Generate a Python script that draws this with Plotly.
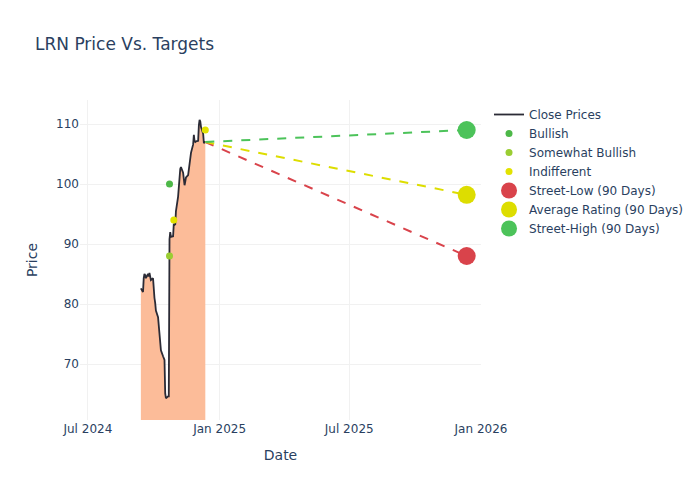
import pandas as pd
import plotly.graph_objects as go

# ---- data ----
close_dates = [d.strftime("%Y-%m-%d") for d in pd.bdate_range("2024-09-13", "2024-12-12")]
close_prices = [
    82.6, 82.0, 84.3, 85.0, 84.8, 84.3, 85.0, 84.6, 85.2, 84.4, 84.0, 84.3,
    82.0, 81.0, 80.2, 78.9, 77.8, 76.4, 75.0, 73.6, 72.3, 71.3, 71.0, 70.7,
    65.1, 64.3, 64.6, 64.6, 90.8, 92.0, 91.2, 91.3, 93.4, 93.2, 93.3,
    95.5, 97.9, 100.0, 101.8, 102.5, 102.8, 101.9, 100.8, 99.8, 100.4, 101.1,
    101.5, 102.4, 103.3, 104.3, 105.2, 106.6, 108.2, 107.1, 107.0, 107.1,
    107.2, 109.8, 110.7, 110.4, 109.5, 108.4, 106.8, 107.0, 107.0,
]

bullish_dates = ["2024-10-23"]
bullish_prices = [100.0]
somewhat_bullish_dates = ["2024-10-23"]
somewhat_bullish_prices = [88.0]
indifferent_dates = ["2024-10-29", "2024-12-12"]
indifferent_prices = [94.0, 109.0]

target_date = "2025-12-12"
street_low = 88.0
average_rating = 98.2
street_high = 109.0

title = "LRN Price Vs. Targets"

# ---- styles ----
c_line = "#2b2b36"
c_fill = "#FCBC99"
c_bull = "#4DB848"
c_sbull = "#9ACD32"
c_ind = "#E2E200"
c_red = "#D9434B"
c_yel = "#DDDD00"
c_grn = "#4CC35A"
c_grid = "#F1F1F1"

fig = go.Figure()

# area under the close price (not in legend)
fig.add_trace(go.Scatter(
    x=close_dates, y=close_prices, mode="lines", showlegend=False,
    line=dict(width=0, color=c_fill), fill="tozeroy", fillcolor=c_fill,
    hoverinfo="skip",
))
fig.add_trace(go.Scatter(
    x=close_dates, y=close_prices, mode="lines", name="Close Prices",
    line=dict(color=c_line, width=1.8),
))
fig.add_trace(go.Scatter(
    x=bullish_dates, y=bullish_prices, mode="markers", name="Bullish",
    marker=dict(color=c_bull, size=7),
))
fig.add_trace(go.Scatter(
    x=somewhat_bullish_dates, y=somewhat_bullish_prices, mode="markers",
    name="Somewhat Bullish", marker=dict(color=c_sbull, size=7),
))
fig.add_trace(go.Scatter(
    x=indifferent_dates, y=indifferent_prices, mode="markers", name="Indifferent",
    marker=dict(color=c_ind, size=7),
))

last_date = close_dates[-1]
last_price = close_prices[-1]
for val, col in [(street_low, c_red), (average_rating, c_yel), (street_high, c_grn)]:
    fig.add_trace(go.Scatter(
        x=[last_date, target_date], y=[last_price, val], mode="lines",
        line=dict(color=col, width=2, dash="dash"), showlegend=False,
        hoverinfo="skip",
    ))

for name, val, col in [("Street-Low (90 Days)", street_low, c_red),
                       ("Average Rating (90 Days)", average_rating, c_yel),
                       ("Street-High (90 Days)", street_high, c_grn)]:
    fig.add_trace(go.Scatter(
        x=[target_date], y=[val], mode="markers", name=name,
        marker=dict(color=col, size=18),
    ))

fig.update_layout(
    template="plotly_white",
    width=700, height=500,
    font=dict(family="DejaVu Sans"),
    title=dict(text=title, x=0.05, xanchor="left", y=0.912, yanchor="middle"),
    xaxis=dict(title="Date", range=["2024-06-20", "2026-01-01"],
               dtick="M6", tickformat="%b %Y", gridcolor=c_grid),
    yaxis=dict(title="Price", range=[60.67, 114], gridcolor=c_grid),
)

fig.write_html("out.html", config={"displayModeBar": False},
               post_script="document.body.style.margin='0px';")
